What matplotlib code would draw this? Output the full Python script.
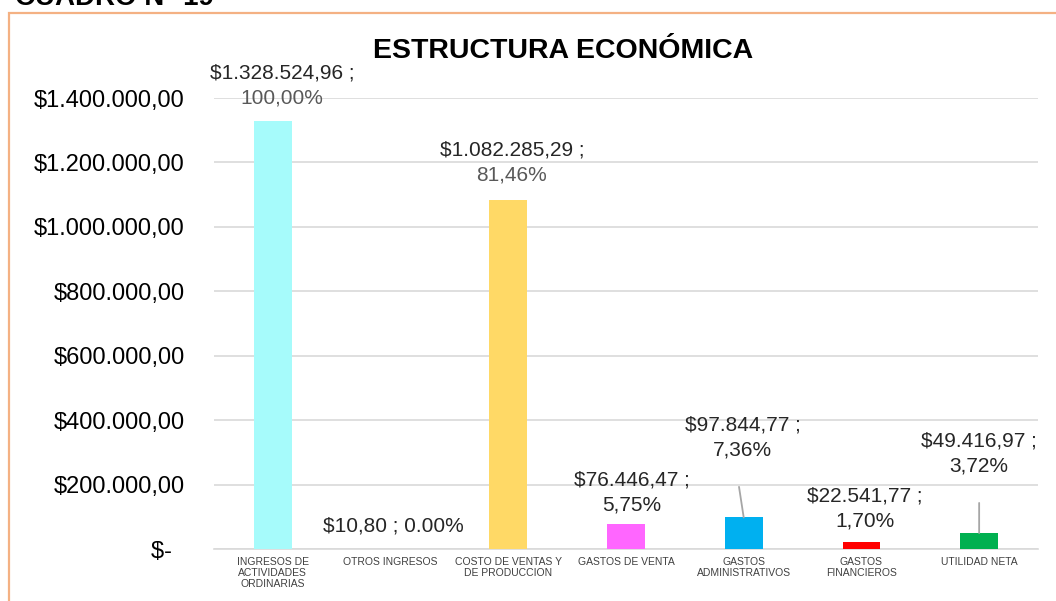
import matplotlib
matplotlib.use("Agg")
import matplotlib.pyplot as plt
from matplotlib.patches import Rectangle
from matplotlib.ticker import FuncFormatter

plt.rcParams['font.family'] = ['Liberation Sans', 'DejaVu Sans']

# data
categorias = ["INGRESOS DE\nACTIVIDADES\nORDINARIAS", "OTROS INGRESOS",
              "COSTO DE VENTAS Y\nDE PRODUCCION", "GASTOS DE VENTA",
              "GASTOS\nADMINISTRATIVOS", "GASTOS\nFINANCIEROS", "UTILIDAD NETA"]
valores = [1328524.96, 10.80, 1082285.29, 76446.47, 97844.77, 22541.77, 49416.97]
etiquetas_valor = ["$1.328.524,96 ;", "$10,80 ; 0.00%", "$1.082.285,29 ;", "$76.446,47 ;",
                   "$97.844,77 ;", "$22.541,77 ;", "$49.416,97 ;"]
etiquetas_pct = ["100,00%", "", "81,46%", "5,75%", "7,36%", "1,70%", "3,72%"]
colores = ["#A6FBFB", "#A6FBFB", "#FFD966", "#FF66FF", "#00B0F0", "#FF0000", "#00B050"]

# where the data labels sit (x in category units, y in data units)
pos_etiquetas = [(0.08, 1434000), (1.02, 71000), (2.03, 1195000), (3.05, 171000),
                 (3.99, 343000), (5.03, 121000), (6.0, 293000)]
con_linea = [False, False, False, False, True, False, True]
desvio_linea = [0, 0, 0, 0, -0.03, 0, 0]
color_pct = ["#595959", "#262626", "#595959", "#262626", "#262626", "#262626", "#262626"]

fig = plt.figure(figsize=(10.56, 6.01), dpi=100)
ax = fig.add_axes([214 / 1056, 1 - 549 / 601, (1038 - 214) / 1056, (549 - 98) / 601])

x = list(range(len(categorias)))
ax.bar(x, valores, width=0.32, color=colores, zorder=3)

ax.set_xlim(-0.5, len(categorias) - 0.5)
ax.set_ylim(0, 1400000)
ax.set_yticks(range(0, 1400001, 200000))


def fmt_pesos(v, p):
    if v == 0:
        return "$-  "
    return "$" + f"{v:,.2f}".replace(",", "X").replace(".", ",").replace("X", ".")


ax.yaxis.set_major_formatter(FuncFormatter(fmt_pesos))
ax.tick_params(axis='y', length=0, pad=21, labelsize=17, labelcolor="#000000")
ax.set_xticks(x)
ax.set_xticklabels(categorias, fontsize=7.5, color="#404040", linespacing=1.1)
ax.tick_params(axis='x', length=0, pad=6)

ax.grid(axis='y', color="#D9D9D9", linewidth=1.2, zorder=0)
for s in ["top", "right", "left"]:
    ax.spines[s].set_visible(False)
ax.spines["bottom"].set_color("#D9D9D9")
ax.spines["bottom"].set_linewidth(1.2)

for i in x:
    lx, ly = pos_etiquetas[i]
    if etiquetas_pct[i]:
        ax.annotate(etiquetas_valor[i], (lx, ly), xytext=(0, 10), textcoords="offset points",
                    ha="center", va="center", fontsize=15, color="#262626", annotation_clip=False)
        ax.annotate(etiquetas_pct[i], (lx, ly), xytext=(0, -8), textcoords="offset points",
                    ha="center", va="center", fontsize=15, color=color_pct[i], annotation_clip=False)
    else:
        ax.text(lx, ly, etiquetas_valor[i], ha="center", va="center", fontsize=15, color="#262626")
    if con_linea[i]:
        ax.annotate("", xy=(i, valores[i]), xytext=(lx + desvio_linea[i], ly - 150000),
                    arrowprops=dict(arrowstyle="-", color="#A6A6A6", lw=1.3, shrinkA=0, shrinkB=0))

fig.text(563 / 1056, 1 - 51 / 601, "ESTRUCTURA ECONÓMICA", ha="center", va="center",
         fontsize=20.5, fontweight="bold", color="#000000")
fig.text(15 / 1056, 1 - 5 / 601, "CUADRO N° 19", ha="left", va="baseline",
         fontsize=20, fontweight="bold", color="#000000")

fig.patches.append(Rectangle((9 / 1056, -0.1), 1.2, 1.1 - 13 / 601, transform=fig.transFigure,
                             fill=False, edgecolor="#F4B183", linewidth=1.6))

fig.savefig("out.png", dpi=100)
